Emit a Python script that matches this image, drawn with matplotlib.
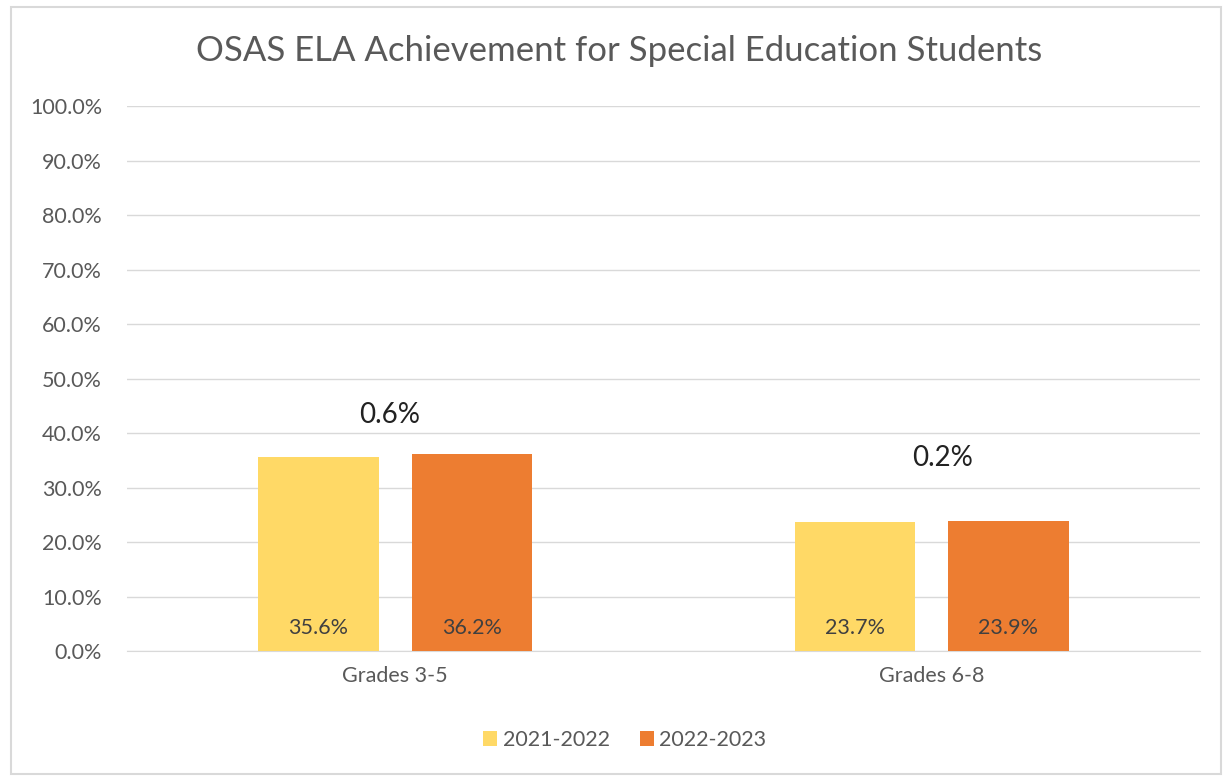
import matplotlib.pyplot as plt
from matplotlib.patches import Rectangle
import numpy as np

# ===== Data =====
categories = ["Grades 3-5", "Grades 6-8"]
years = ["2021-2022", "2022-2023"]
values_2122 = [35.6, 23.7]
values_2223 = [36.2, 23.9]
y_ticks = [0, 10, 20, 30, 40, 50, 60, 70, 80, 90, 100]

# ===== Style =====
COLORS = ["#FFD966", "#ED7D31"]
GRID_COLOR = "#D9D9D9"
TEXT_GREY = "#595959"
BAR_WIDTH = 0.224
BAR_OFFSET = 0.143
DIFF_LABEL_Y = [43.3, 35.4]   # where the change labels sit (data units)
DIFF_LABEL_DX = [-0.01, 0.02]

plt.rcParams['font.family'] = ['Lato', 'DejaVu Sans']

fig = plt.figure(figsize=(12.3, 7.79), dpi=100)
ax = fig.add_axes([0.1033, 0.1643, 0.8723, 0.6996])

x = np.arange(len(categories))
series = [values_2122, values_2223]
for i, (vals, label) in enumerate(zip(series, years)):
    pos = x + (i * 2 - 1) * BAR_OFFSET
    ax.bar(pos, vals, width=BAR_WIDTH, color=COLORS[i], label=label, zorder=3)
    for px, v in zip(pos, vals):
        ax.text(px, 4.2, f"{v:.1f}%", ha="center", va="center",
                fontsize=15.5, color="#404040", zorder=4)

# change labels above each group
for j in range(len(categories)):
    diff = values_2223[j] - values_2122[j]
    ax.text(x[j] + DIFF_LABEL_DX[j], DIFF_LABEL_Y[j], f"{diff:.1f}%",
            ha="center", va="center", fontsize=20, color="#222222")

ax.set_xlim(-0.5, 1.5)
ax.set_ylim(0, 100)
ax.set_yticks(y_ticks)
ax.set_yticklabels([f"{t:.1f}%" for t in y_ticks])
ax.set_xticks(x)
ax.set_xticklabels(categories)
ax.tick_params(axis="y", length=0, labelsize=15.5, colors=TEXT_GREY, pad=18)
ax.tick_params(axis="x", length=0, labelsize=15.5, colors=TEXT_GREY, pad=11)
ax.yaxis.grid(True, color=GRID_COLOR, linewidth=1, zorder=0)
for side in ["top", "right", "left"]:
    ax.spines[side].set_visible(False)
ax.spines["bottom"].set_color(GRID_COLOR)

fig.text(0.503, 0.935, "OSAS ELA Achievement for Special Education Students",
         ha="center", va="center", fontsize=25, color=TEXT_GREY)

fig.legend(loc="center", bbox_to_anchor=(0.508, 0.05), ncol=2, frameon=False,
           fontsize=15.5, handlelength=0.65, handleheight=0.65,
           handletextpad=0.25, columnspacing=1.4, labelcolor=TEXT_GREY)

# chart border
fig.patches.append(Rectangle((0.009, 0.006), 0.984, 0.985, transform=fig.transFigure,
                             fill=False, edgecolor="#D9D9D9", linewidth=1.5))

fig.savefig("out.png", dpi=100)
